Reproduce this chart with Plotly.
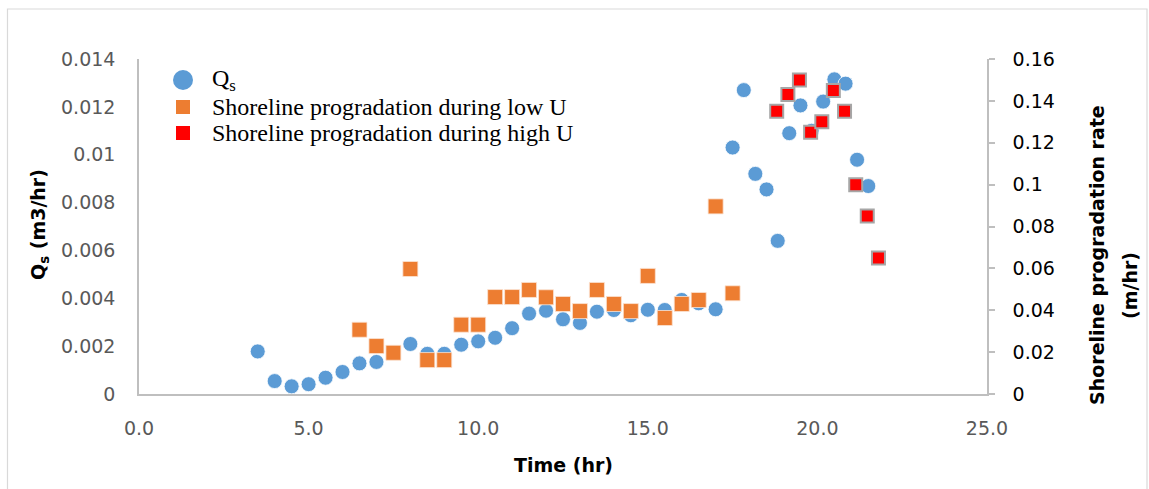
import plotly.graph_objects as go

# Sediment flux Qs (m3/hr) against time (hr)
qs_time = [3.5, 4.0, 4.5, 5.0, 5.5, 6.0, 6.5, 7.0, 8.0, 8.5, 9.0, 9.5, 10.0, 10.5,
           11.0, 11.5, 12.0, 12.5, 13.0, 13.5, 14.0, 14.5, 15.0, 15.5, 16.0, 16.5,
           17.0, 17.5, 17.83, 18.17, 18.5, 18.83, 19.17, 19.5, 19.83, 20.17, 20.5,
           20.83, 21.17, 21.5]
qs_value = [0.00178, 0.00054, 0.00032, 0.00041, 0.00068, 0.00092, 0.00128, 0.00134,
            0.00209, 0.00168, 0.00168, 0.00206, 0.0022, 0.00235, 0.00275, 0.00336,
            0.00348, 0.00312, 0.00297, 0.00344, 0.00351, 0.00329, 0.00352, 0.00351,
            0.00393, 0.00379, 0.00354, 0.0103, 0.0127, 0.0092, 0.00855, 0.0064,
            0.0109, 0.01206, 0.011, 0.01222, 0.01315, 0.01297, 0.00979, 0.00869]

# Shoreline progradation rate (m/hr) during low U
low_time = [6.5, 7.0, 7.5, 8.0, 8.5, 9.0, 9.5, 10.0, 10.5, 11.0, 11.5, 12.0, 12.5,
            13.0, 13.5, 14.0, 14.5, 15.0, 15.5, 16.0, 16.5, 17.0, 17.5]
low_rate = [0.0307, 0.0229, 0.0197, 0.0597, 0.0162, 0.0162, 0.0331, 0.0331, 0.0463,
            0.0463, 0.0497, 0.0462, 0.043, 0.0396, 0.0497, 0.043, 0.0396, 0.0564,
            0.0363, 0.043, 0.0449, 0.0896, 0.0481]

# Shoreline progradation rate (m/hr) during high U
high_time = [18.8, 19.13, 19.47, 19.8, 20.13, 20.47, 20.8, 21.13, 21.47, 21.8]
high_rate = [0.135, 0.143, 0.15, 0.125, 0.13, 0.145, 0.135, 0.1, 0.085, 0.065]

x_ticks = [0, 5, 10, 15, 20, 25]

series_names = ["Q<sub>s</sub>",
                "Shoreline progradation during low U",
                "Shoreline progradation during high U"]

BLUE, ORANGE, RED = "#5B9BD5", "#ED7D31", "#FF0000"
AXIS_GREY = "#BFBFBF"
TICK_GREY = "#595959"
TICK_FONT = dict(family="DejaVu Sans", size=19, color=TICK_GREY)
TITLE_FONT = dict(family="DejaVu Sans", size=19, color="black", weight="bold")

# plot area in pixels (left, top, width, height)
PL, PT, PW, PH = 139, 59, 848, 335


def px(x):
    return (x - PL) / PW


def py(y):
    return (PT + PH - y) / PH


fig = go.Figure()

fig.add_trace(go.Scatter(
    x=qs_time, y=qs_value, mode="markers", name=series_names[0],
    marker=dict(symbol="circle", size=15, color=BLUE,
                line=dict(color="white", width=0.8)),
    yaxis="y",
))
fig.add_trace(go.Scatter(
    x=low_time, y=low_rate, mode="markers", name=series_names[1],
    marker=dict(symbol="square", size=15, color=ORANGE,
                line=dict(color="#FBE3D3", width=0.8)),
    yaxis="y2",
))
fig.add_trace(go.Scatter(
    x=high_time, y=high_rate, mode="markers", name=series_names[2],
    marker=dict(symbol="square", size=13, color=RED,
                line=dict(color="#A6A6A6", width=2)),
    yaxis="y2",
))

# legend key: symbol + label per series
legend_rows = [80, 107, 133]
legend_shapes = [
    dict(type="circle", xref="paper", yref="paper",
         x0=px(173), x1=px(193), y0=py(90), y1=py(70),
         fillcolor=BLUE, line=dict(width=0)),
    dict(type="rect", xref="paper", yref="paper",
         x0=px(176), x1=px(190), y0=py(114), y1=py(100),
         fillcolor=ORANGE, line=dict(width=0)),
    dict(type="rect", xref="paper", yref="paper",
         x0=px(176), x1=px(190), y0=py(140), y1=py(126),
         fillcolor=RED, line=dict(width=0)),
]
legend_labels = [
    dict(text=name, xref="paper", yref="paper", x=px(210), y=py(row),
         xanchor="left", yanchor="middle", showarrow=False,
         font=dict(family="Liberation Serif", size=24, color="black"))
    for name, row in zip(series_names, legend_rows)
]

fig.update_layout(
    width=1149, height=489,
    margin=dict(l=PL, r=1149 - PL - PW, t=PT, b=489 - PT - PH),
    paper_bgcolor="white", plot_bgcolor="white",
    showlegend=False,
    xaxis=dict(
        range=[0, 25], tickvals=x_ticks, tickformat=".1f",
        showline=True, linecolor=AXIS_GREY, linewidth=1.5,
        showgrid=False, zeroline=False, ticks="",
        tickfont=TICK_FONT, ticklabelstandoff=16,
    ),
    yaxis=dict(
        range=[0, 0.014], dtick=0.002,
        showline=True, linecolor=AXIS_GREY, linewidth=1.5,
        showgrid=False, zeroline=False, ticks="",
        tickfont=TICK_FONT, ticklabelstandoff=18,
    ),
    yaxis2=dict(
        range=[0, 0.16], dtick=0.02, overlaying="y", side="right",
        showline=True, linecolor=AXIS_GREY, linewidth=1.5,
        showgrid=False, zeroline=False,
        ticks="outside", ticklen=6, tickcolor=AXIS_GREY, tickwidth=1.5,
        tickfont=dict(family="DejaVu Sans", size=19, color="black"),
        ticklabelstandoff=14,
    ),
    annotations=[
        dict(text="Time (hr)", xref="paper", yref="paper", x=0.5, y=py(465),
             showarrow=False, font=TITLE_FONT, xanchor="center", yanchor="middle"),
        dict(text="Q<sub>s</sub> (m3/hr)", xref="paper", yref="paper",
             x=px(39), y=py(225), textangle=-90, showarrow=False, font=TITLE_FONT,
             xanchor="center", yanchor="middle"),
        dict(text="Shoreline progradation rate", xref="paper", yref="paper",
             x=px(1097), y=py(255), textangle=-90,
             showarrow=False, font=TITLE_FONT, xanchor="center", yanchor="middle"),
        dict(text="(m/hr)", xref="paper", yref="paper",
             x=px(1130), y=py(286), textangle=-90,
             showarrow=False, font=TITLE_FONT, xanchor="center", yanchor="middle"),
    ] + legend_labels,
    shapes=[
        # chart frame
        dict(type="rect", xref="paper", yref="paper",
             x0=px(7.5), x1=px(1147), y0=py(500), y1=py(9),
             line=dict(color="#D9D9D9", width=1.2), layer="below"),
    ] + legend_shapes,
)

fig.write_html("out.html")
